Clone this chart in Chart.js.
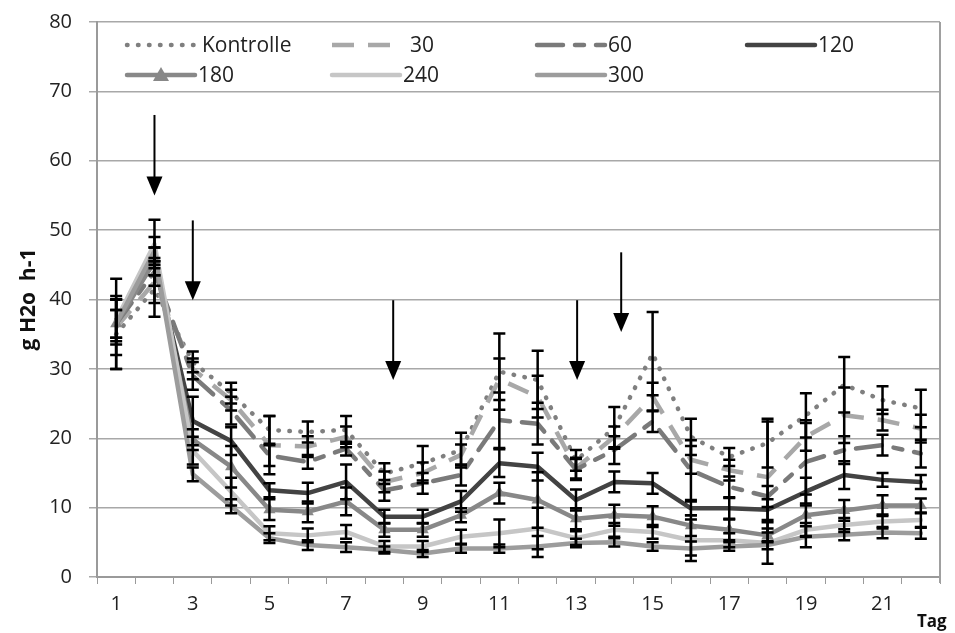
<!DOCTYPE html>
<html><head><meta charset="utf-8">
<script src="https://cdn.jsdelivr.net/npm/chart.js@4/dist/chart.umd.min.js"></script>
<style>html,body{margin:0;padding:0;background:#fff}</style>
</head><body>
<canvas id="c" width="955" height="633"></canvas>
<script>
const days = ['1','2','3','4','5','6','7','8','9','10','11','12','13','14','15','16','17','18','19','20','21','22'];
const seriesNames = ['Kontrolle','30','60','120','180','240','300'];
const kontrolle = [35, 41.5, 31, 26.5, 21.2, 20.9, 21.2, 14.9, 16.4, 18.3, 29.6, 28.4, 16.8, 21.5, 32.2, 20.2, 17.3, 19.3, 23.3, 27.7, 25.5, 24.3];
const s30  = [36, 42.5, 30, 25.5, 19.0, 18.8, 20.2, 13.7, 15.0, 17.6, 28.5, 26.0, 15.7, 20.2, 26.0, 16.9, 15.4, 14.4, 20.2, 23.3, 22.6, 21.4];
const s60  = [36.5, 44, 29, 24.0, 17.5, 16.6, 18.5, 12.5, 13.5, 14.7, 22.6, 22.1, 15.5, 18.3, 22.4, 15.4, 13.0, 11.6, 16.6, 18.3, 19.0, 17.8];
const s120 = [37, 45.5, 22.5, 19.6, 12.5, 12.1, 13.7, 8.7, 8.7, 10.9, 16.4, 15.9, 11.1, 13.7, 13.5, 9.9, 9.9, 9.7, 12.3, 14.7, 14.0, 13.7];
const s180 = [36.5, 45.5, 19.8, 15.9, 9.7, 9.4, 10.9, 6.8, 6.8, 8.9, 12.1, 11.1, 8.4, 8.9, 8.7, 7.4, 6.8, 6.0, 8.9, 9.6, 10.3, 10.3];
const s240 = [37, 48, 18.2, 12.3, 6.3, 6.0, 6.5, 4.4, 4.4, 5.8, 6.3, 7.0, 5.6, 6.8, 6.5, 5.3, 5.3, 4.9, 6.8, 7.5, 8.0, 8.2];
const s300 = [36.5, 47, 14.8, 10.2, 5.6, 4.6, 4.3, 3.9, 3.4, 4.1, 4.1, 4.4, 4.9, 5.0, 4.4, 4.1, 4.4, 4.6, 5.8, 6.1, 6.4, 6.3];

const errK   = [5, 4, 1.5, 1.5, 2, 1.5, 2, 1.5, 2.5, 2.5, 5.5, 4.2, 1.5, 3, 6, 2.6, 1.3, 3.5, 3.2, 4, 2, 2.7];
const err30  = [4, 3, 1.5, 1.5, 4.2, 1.5, 1.5, 1.5, 1.5, 1.5, 3, 3, 1.5, 1.5, 2, 2, 1.5, 8, 2, 4, 1.5, 2];
const err60  = [6.5, 2, 2, 2, 1.5, 1, 1, 1.5, 1.5, 1.5, 4, 3, 1.5, 2, 1.5, 4.3, 1.5, 1.5, 6, 2, 1.5, 2];
const err120 = [3, 2, 3.5, 2, 1, 1.5, 2.5, 1, 1, 1.5, 2, 2, 1.5, 1.5, 1.5, 1, 1.5, 1.5, 2, 2, 1, 1];
const err180 = [2, 2, 1.5, 3, 1.5, 1.5, 2, 1, 1, 1, 1.5, 4, 1.5, 1.5, 1.5, 1.5, 1.5, 1, 3, 1.5, 1.5, 1];
const err240 = [3.5, 3.5, 2, 2, 1, 1, 1, 0.8, 0.8, 1, 2, 3, 1, 1, 1, 3, 1, 3, 1, 1, 1, 1];
const err300 = [2, 2, 1, 1, 0.7, 0.7, 0.7, 0.5, 0.5, 0.6, 0.6, 1.5, 0.6, 0.6, 0.6, 1, 0.6, 0.6, 1.5, 0.8, 0.8, 0.8];

const yTicks = [0, 10, 20, 30, 40, 50, 60, 70, 80];
const arrowDay  = [2, 3, 8.23, 13.03, 14.18];
const arrowFrom = [66.6, 51.4, 39.9, 39.9, 46.8];
const arrowTo   = [55.0, 39.9, 28.4, 28.4, 35.3];

const seriesValues = [kontrolle, s30, s60, s120, s180, s240, s300];
const seriesErrors = [errK, err30, err60, err120, err180, err240, err300];
const styles = [
  {c:'#7f7f7f', dash:[0.5, 10.5], cap:'round', w:4.5},
  {c:'#a8a8a8', dash:[22, 14], cap:'butt', w:4.5},
  {c:'#7a7a7a', dash:[26, 12, 9, 12], cap:'round', w:4.5},
  {c:'#434343', dash:[], cap:'round', w:4.5},
  {c:'#888888', dash:[], cap:'round', w:4.5, tri:true},
  {c:'#c6c6c6', dash:[], cap:'round', w:4.5},
  {c:'#9c9c9c', dash:[], cap:'round', w:4.5}
];

const FONT = "'Open Sans', sans-serif";

const datasets = seriesNames.map((n, i) => ({
  label: n,
  data: seriesValues[i],
  borderColor: styles[i].c,
  backgroundColor: styles[i].c,
  borderWidth: styles[i].w,
  borderDash: styles[i].dash,
  borderCapStyle: styles[i].cap,
  borderJoinStyle: 'round',
  pointStyle: styles[i].tri ? 'triangle' : 'circle',
  pointRadius: styles[i].tri ? 7 : 0,
  pointBorderWidth: 0,
  tension: 0,
  fill: false,
  order: 10 - i
}));

const overlay = {
  id: 'overlay',
  afterDatasetsDraw(chart) {
    const ctx = chart.ctx, xs = chart.scales.x, ys = chart.scales.y, a = chart.chartArea;
    ctx.save();
    ctx.strokeStyle = '#a0a0a0'; ctx.lineWidth = 2; ctx.setLineDash([]);
    ctx.beginPath(); ctx.moveTo(a.right, a.top); ctx.lineTo(a.right, a.bottom + 6); ctx.stroke();
    ctx.strokeStyle = '#000'; ctx.lineWidth = 2.5; ctx.lineCap = 'butt';
    seriesValues.forEach((vals, di) => {
      const err = seriesErrors[di];
      vals.forEach((v, i) => {
        const px = xs.getPixelForValue(i);
        const t = ys.getPixelForValue(v + err[i]);
        const b = ys.getPixelForValue(Math.max(0, v - err[i]));
        ctx.beginPath();
        ctx.moveTo(px, t); ctx.lineTo(px, b);
        ctx.moveTo(px - 6, t); ctx.lineTo(px + 6, t);
        ctx.moveTo(px - 6, b); ctx.lineTo(px + 6, b);
        ctx.stroke();
      });
    });
    ctx.fillStyle = '#000'; ctx.lineWidth = 2;
    arrowDay.forEach((d, i) => {
      const px = xs.getPixelForValue(d - 1);
      const top = ys.getPixelForValue(arrowFrom[i]);
      const tip = ys.getPixelForValue(arrowTo[i]);
      ctx.beginPath(); ctx.moveTo(px, top); ctx.lineTo(px, tip - 18); ctx.stroke();
      ctx.beginPath(); ctx.moveTo(px - 8, tip - 19); ctx.lineTo(px + 8, tip - 19); ctx.lineTo(px, tip); ctx.closePath(); ctx.fill();
    });
    const colX = [28, 233, 438, 648];
    const rowY = [23, 53];
    ctx.font = '21px ' + FONT; ctx.textBaseline = 'middle'; ctx.textAlign = 'left';
    seriesNames.forEach((n, i) => {
      const col = i < 4 ? i : i - 4, row = i < 4 ? 0 : 1;
      const sx = a.left + colX[col], sy = a.top + rowY[row];
      const st = styles[i];
      ctx.strokeStyle = st.c; ctx.lineWidth = st.w; ctx.lineCap = st.cap; ctx.setLineDash(st.dash);
      ctx.beginPath(); ctx.moveTo(sx + 2, sy); ctx.lineTo(sx + 70, sy); ctx.stroke();
      ctx.setLineDash([]);
      if (st.tri) {
        ctx.fillStyle = st.c;
        ctx.beginPath(); ctx.moveTo(sx + 36, sy - 8); ctx.lineTo(sx + 44, sy + 6); ctx.lineTo(sx + 28, sy + 6); ctx.closePath(); ctx.fill();
      }
      ctx.fillStyle = '#222';
      ctx.fillText(n, sx + (i === 0 ? 77 : (i === 1 ? 80 : 73)), sy + 1);
    });
    ctx.font = 'bold 17px ' + FONT; ctx.fillStyle = '#111'; ctx.textAlign = 'left';
    ctx.fillText('Tag', a.right - 23, a.bottom + 45);
    ctx.restore();
  }
};

new Chart(document.getElementById('c'), {
  type: 'line',
  data: { labels: days, datasets },
  options: {
    responsive: false,
    animation: false,
    devicePixelRatio: 1,
    layout: { padding: { top: 22, right: 15, left: 0, bottom: 0 } },
    plugins: { legend: { display: false }, tooltip: { enabled: false } },
    scales: {
      x: {
        type: 'category',
        offset: true,
        afterFit: s => { s.height = 56; s.paddingLeft = 0; s.paddingRight = 0; },
        border: { color: '#9a9a9a', width: 2 },
        grid: { offset: true, drawOnChartArea: false, drawTicks: true, tickLength: 7, color: '#9a9a9a', lineWidth: 1 },
        ticks: {
          autoSkip: false, maxRotation: 0, padding: 8,
          color: '#222', font: { family: FONT, size: 20 },
          callback: function(v, i) { return i % 2 === 0 ? days[i] : ''; }
        }
      },
      y: {
        min: 0, max: 80,
        afterFit: s => { s.width = 97; s.paddingTop = 0; s.paddingBottom = 0; },
        afterBuildTicks: s => { s.ticks = yTicks.map(v => ({ value: v })); },
        border: { color: '#9a9a9a', width: 2 },
        grid: { color: '#a8a8a8', lineWidth: 1.5, tickLength: 8 },
        ticks: { padding: 17, color: '#222', font: { family: FONT, size: 20 } },
        title: { display: true, text: 'g H2o  h-1', color: '#111', font: { family: FONT, size: 21, weight: 'bold' }, padding: { top: 16, bottom: 0 } }
      }
    }
  },
  plugins: [overlay]
});
</script>
</body></html>
